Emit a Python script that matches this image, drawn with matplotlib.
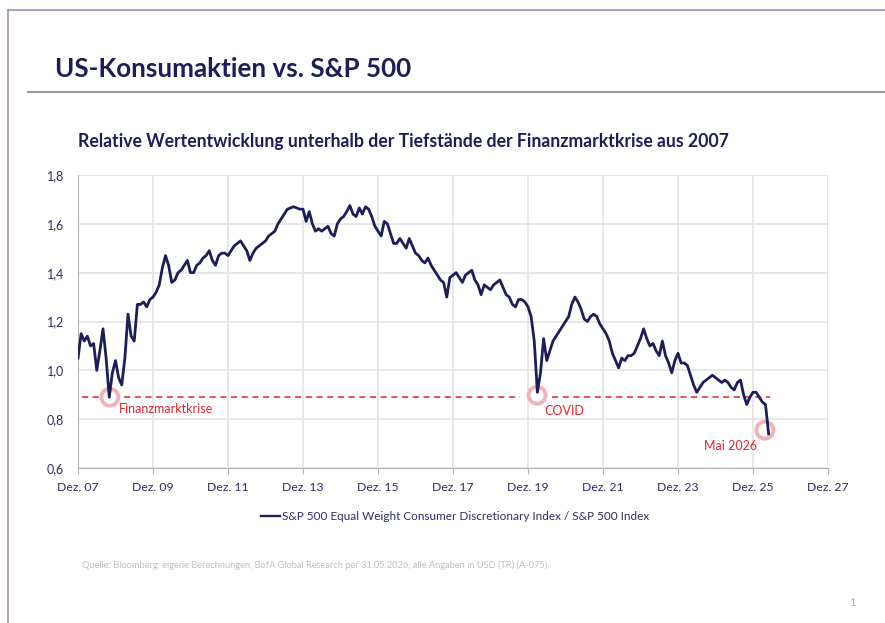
import matplotlib.pyplot as plt
from matplotlib.lines import Line2D

plt.rcParams['font.family'] = ['Lato', 'DejaVu Sans']

# Monthly values, Dez. 2007 (month 0) to Mai 2026 (month 221)
ratio = [
    1.05, 1.15, 1.12, 1.14, 1.10, 1.11, 1.00, 1.08, 1.17, 1.05,   # Dez 07 - Sep 08
    0.89, 0.99, 1.04, 0.97, 0.94, 1.05, 1.23, 1.14, 1.12, 1.27,   # Okt 08 - Jul 09
    1.27, 1.28, 1.26, 1.29, 1.30, 1.32, 1.35, 1.42, 1.47, 1.43,   # Aug 09 - Mai 10
    1.36, 1.37, 1.40, 1.41, 1.43, 1.45, 1.40, 1.40, 1.43, 1.44,   # Jun 10 - Mar 11
    1.46, 1.47, 1.49, 1.45, 1.43, 1.47, 1.48, 1.48, 1.47, 1.49,   # Apr 11 - Jan 12
    1.51, 1.52, 1.53, 1.51, 1.49, 1.45, 1.48, 1.50, 1.51, 1.52,   # Feb 12 - Nov 12
    1.53, 1.55, 1.56, 1.57, 1.60, 1.62, 1.64, 1.66, 1.665, 1.67,  # Dez 12 - Sep 13
    1.665, 1.66, 1.66, 1.61, 1.65, 1.60, 1.57, 1.58, 1.57, 1.58,  # Okt 13 - Jul 14
    1.59, 1.56, 1.55, 1.60, 1.62, 1.63, 1.65, 1.675, 1.64, 1.63,  # Aug 14 - Mai 15
    1.665, 1.64, 1.67, 1.66, 1.63, 1.59, 1.57, 1.55, 1.61, 1.60,  # Jun 15 - Mar 16
    1.56, 1.52, 1.52, 1.54, 1.52, 1.50, 1.54, 1.51, 1.48, 1.47,   # Apr 16 - Jan 17
    1.45, 1.44, 1.46, 1.43, 1.41, 1.39, 1.37, 1.36, 1.30, 1.38,   # Feb 17 - Nov 17
    1.39, 1.40, 1.38, 1.36, 1.39, 1.40, 1.41, 1.37, 1.35, 1.31,   # Dez 17 - Sep 18
    1.35, 1.34, 1.33, 1.35, 1.36, 1.37, 1.34, 1.31, 1.30, 1.27,   # Okt 18 - Jul 19
    1.26, 1.29, 1.29, 1.28, 1.26, 1.22, 1.12, 0.91, 0.99, 1.13,   # Aug 19 - Mai 20
    1.04, 1.08, 1.12, 1.14, 1.16, 1.18, 1.20, 1.22, 1.27, 1.30,   # Jun 20 - Mar 21
    1.28, 1.25, 1.21, 1.20, 1.22, 1.23, 1.22, 1.19, 1.17, 1.15,   # Apr 21 - Jan 22
    1.12, 1.07, 1.04, 1.01, 1.05, 1.04, 1.06, 1.06, 1.07, 1.10,   # Feb 22 - Nov 22
    1.13, 1.17, 1.13, 1.10, 1.11, 1.08, 1.06, 1.12, 1.06, 1.03,   # Dez 22 - Sep 23
    0.99, 1.04, 1.07, 1.03, 1.03, 1.02, 0.98, 0.94, 0.91, 0.93,   # Okt 23 - Jul 24
    0.95, 0.96, 0.97, 0.98, 0.97, 0.96, 0.95, 0.96, 0.95, 0.93,   # Aug 24 - Mai 25
    0.92, 0.95, 0.96, 0.90, 0.86, 0.89, 0.91, 0.91, 0.89, 0.87,   # Jun 25 - Mar 26
    0.86, 0.74,                                                   # Apr 26 - Mai 26
]
months = list(range(len(ratio)))

tick_months = [0, 24, 48, 72, 96, 120, 144, 168, 192, 216, 240]
tick_labels = ['Dez. 07', 'Dez. 09', 'Dez. 11', 'Dez. 13', 'Dez. 15', 'Dez. 17',
               'Dez. 19', 'Dez. 21', 'Dez. 23', 'Dez. 25', 'Dez. 27']
y_ticks = [0.6, 0.8, 1.0, 1.2, 1.4, 1.6, 1.8]

crisis_level = 0.89
# marked lows: (month, value, label)
lows = [(10.2, 0.89, 'Finanzmarktkrise'), (146.9, 0.898, 'COVID'), (219.8, 0.755, 'Mai 2026')]
dash_segments = [(1.3, 7.4), (14.7, 141.4), (151.7, 221.4)]

navy = '#1d1d5a'
red = '#e0262e'

fig = plt.figure(figsize=(8.85, 6.23), dpi=100)

# page frame and header rule
fig.add_artist(Line2D([8/885, 1], [1-10/623, 1-10/623], color='#a58bbd', lw=1.2))
fig.add_artist(Line2D([8/885, 8/885], [0, 1-10/623], color='#a58bbd', lw=1.2))
fig.add_artist(Line2D([28/885, 1], [1-92/623, 1-92/623], color='#9a9a9a', lw=1.5))

fig.text(55/885, 1-69/623, 'US-Konsumaktien vs. S&P 500', fontsize=18.7, fontweight='bold',
         color=navy, va='center', ha='left')
fig.text(78/885, 1-142/623, 'Relative Wertentwicklung unterhalb der Tiefstände der Finanzmarktkrise aus 2007',
         fontsize=12.7, fontweight='bold', color=navy, va='center', ha='left')

ax = fig.add_axes([78/885, 1-468/623, 750/885, 293/623])
ax.plot(months, ratio, color=navy, lw=2.0, zorder=4)

for a, b in dash_segments:
    ax.plot([a, b], [crisis_level, crisis_level], color=red, lw=1.1, ls=(0, (4, 3)), zorder=2)

for m, v, lab in lows:
    ax.scatter([m], [v], s=150, facecolors='none', edgecolors='#f0b4b8', linewidths=2.8, zorder=3)

ax.text(13.1, 0.842, 'Finanzmarktkrise', color=red, fontsize=9, va='center', ha='left')
ax.text(149.1, 0.834, 'COVID', color=red, fontsize=9, va='center', ha='left')
ax.text(217.3, 0.689, 'Mai 2026', color=red, fontsize=9, va='center', ha='right')

ax.set_xlim(0, 240)
ax.set_ylim(0.6, 1.8)
ax.set_xticks(tick_months)
ax.set_xticklabels(tick_labels)
ax.set_yticks(y_ticks)
ax.set_yticklabels([f'{v:.1f}'.replace('.', ',') for v in y_ticks])
ax.grid(True, color='#e3e3e3', lw=1.2)
ax.set_axisbelow(True)
for s in ['top', 'right']:
    ax.spines[s].set_visible(False)
for s in ['left', 'bottom']:
    ax.spines[s].set_color('#b5b5b5')
ax.tick_params(axis='x', length=4, color='#b5b5b5', labelsize=8.8, labelcolor='#2e2e66', pad=6)
ax.tick_params(axis='y', length=0, labelsize=9, labelcolor='#2e2e66', pad=10)

leg_line = Line2D([0], [0], color=navy, lw=1.7)
fig.legend([leg_line], ['S&P 500 Equal Weight Consumer Discretionary Index / S&P 500 Index'],
           loc='center', bbox_to_anchor=(455/885, 1-517/623), frameon=False, fontsize=8.5,
           handlelength=1.6, handletextpad=0.2, labelcolor='#2e2e66')

fig.text(82/885, 1-565/623,
         'Quelle: Bloomberg, eigene Berechnungen, BofA Global Research per 31.05.2026, alle Angaben in USD (TR) (A-075).',
         fontsize=6.65, color='#c0c0c0', va='center', ha='left')
fig.text(852/885, 1-602/623, '1', fontsize=8, color='#b0b0b0', va='center', ha='center')

fig.savefig('out.png', dpi=100)
